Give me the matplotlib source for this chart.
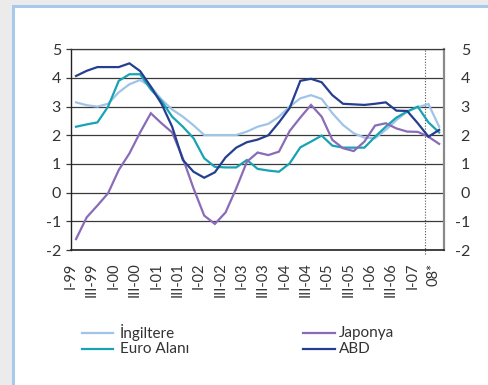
import matplotlib
matplotlib.use("Agg")
import matplotlib.pyplot as plt
from matplotlib.patches import Rectangle
from matplotlib.lines import Line2D
import numpy as np

plt.rcParams['font.family'] = ['Lato', 'DejaVu Sans']

# Quarterly inflation (%), I-1999 onwards; last points are forecasts
ingiltere = [3.15, 3.05, 3.00, 3.10, 3.50, 3.78, 3.93, 3.70, 3.25, 2.90,
             2.65, 2.35, 2.01, 2.01, 2.01, 2.01, 2.13, 2.30, 2.40, 2.65,
             3.00, 3.29, 3.40, 3.27, 2.77, 2.36, 2.07, 1.92, 1.90, 2.19,
             2.53, 2.83, 2.98, 3.09, 2.30]
euro_alani = [2.30, 2.38, 2.45, 3.00, 3.90, 4.13, 4.13, 3.60, 3.20, 2.65,
              2.30, 1.90, 1.20, 0.90, 0.88, 0.88, 1.14, 0.83, 0.77, 0.73,
              1.02, 1.58, 1.78, 1.99, 1.64, 1.57, 1.57, 1.57, 1.95, 2.30,
              2.62, 2.83, 3.00, 2.45, 2.10]
japonya = [-1.62, -0.86, -0.45, -0.02, 0.79, 1.37, 2.10, 2.77, 2.42, 2.10,
           1.20, 0.15, -0.80, -1.09, -0.69, 0.15, 1.08, 1.40, 1.31, 1.43,
           2.15, 2.62, 3.06, 2.65, 1.84, 1.55, 1.45, 1.78, 2.34, 2.42,
           2.24, 2.13, 2.12, 1.95, 1.70]
abd = [4.07, 4.25, 4.38, 4.38, 4.38, 4.51, 4.24, 3.70, 3.10, 2.30,
       1.14, 0.73, 0.52, 0.71, 1.23, 1.57, 1.76, 1.85, 2.00, 2.45,
       2.95, 3.90, 3.97, 3.85, 3.40, 3.10, 3.08, 3.06, 3.10, 3.15,
       2.86, 2.85, 2.42, 1.95, 2.19]

tick_labels = ['I-99', 'III-99', 'I-00', 'III-00', 'I-01', 'III-01', 'I-02',
               'III-02', 'I-03', 'III-03', 'I-04', 'III-04', 'I-05', 'III-05',
               'I-06', 'III-06', 'I-07', '08*']
series_names = ['İngiltere', 'Euro Alanı', 'Japonya', 'ABD']
colors = ['#9fc4e8', '#17a3b3', '#8a6bb8', '#253f8e']
y_ticks = [-2, -1, 0, 1, 2, 3, 4, 5]
forecast_start = 32.65

W, H = 489, 385
fig = plt.figure(figsize=(W / 100, H / 100), dpi=100)
fig.patch.set_facecolor('#ebebeb')

# white panel with light blue frame
fig.patches.append(Rectangle((13 / W, -0.2), 1.2, 1.2 - 6 / H,
                             transform=fig.transFigure, facecolor='white',
                             edgecolor='#a9c9ec', linewidth=2.2, zorder=-10))

ax = fig.add_axes([70.7 / W, 1 - 250 / H, (444.5 - 70.7) / W, (250 - 49.3) / H])
ax.set_facecolor('none')

x = np.arange(len(abd))
for vals, c in zip([ingiltere, euro_alani, japonya, abd], colors):
    ax.plot(x, vals, color=c, lw=1.6, solid_joinstyle='miter', zorder=3)

ax.set_xlim(-0.5, len(abd) - 0.5)
ax.set_ylim(-2, 5)

for v in y_ticks:
    ax.axhline(v, color='#3a3a3a', lw=0.9, zorder=1)
ax.axvline(forecast_start, ymin=-0.02, ymax=1, color='#555555', lw=0.8,
           ls=(0, (1, 1.5)), zorder=2, clip_on=False)

ax.set_yticks(y_ticks)
ax.set_yticklabels([str(v) for v in y_ticks])
ax.tick_params(axis='y', which='both', direction='out', length=3.5, width=0.9,
               color='#3a3a3a', labelsize=11.5, labelcolor='#333333', pad=3.5,
               left=True, right=True, labelleft=True, labelright=False)

# right-hand labels, right-aligned
ax2 = ax.twinx()
ax2.set_ylim(ax.get_ylim())
ax2.set_yticks(y_ticks)
ax2.set_yticklabels([str(v) for v in y_ticks], ha='right')
ax2.tick_params(axis='y', length=0, labelsize=11.5, labelcolor='#333333', pad=25.5 * 0.72)
for s in ax2.spines.values():
    s.set_visible(False)

ax.set_xticks(np.arange(0, len(abd), 2) - 0.5)
ax.set_xticklabels(tick_labels, rotation=90, ha='center', va='top')
ax.tick_params(axis='x', length=0, labelsize=10.5, labelcolor='#333333', pad=9)

ax.spines['top'].set_color('#3a3a3a')
ax.spines['top'].set_linewidth(0.9)
ax.spines['left'].set_color('#222222')
ax.spines['left'].set_linewidth(1.0)
ax.spines['bottom'].set_color('#222222')
ax.spines['bottom'].set_linewidth(1.2)
ax.spines['right'].set_color('#8a8a8a')
ax.spines['right'].set_linewidth(1.6)

# legend keys
legend_pos = [(82, 113, 120, 332.5), (82, 113, 120, 349),
              (303, 335, 339, 332.5), (303, 335, 339, 349)]
for name, c, (x0, x1, tx, yy) in zip(series_names, colors, legend_pos):
    fig.add_artist(Line2D([x0 / W, x1 / W], [1 - yy / H, 1 - yy / H],
                          transform=fig.transFigure, color=c, lw=1.6))
    fig.text(tx / W, 1 - yy / H, name, fontsize=11, color='#333333',
             ha='left', va='center')

fig.savefig('out.png', dpi=100, facecolor=fig.get_facecolor())
